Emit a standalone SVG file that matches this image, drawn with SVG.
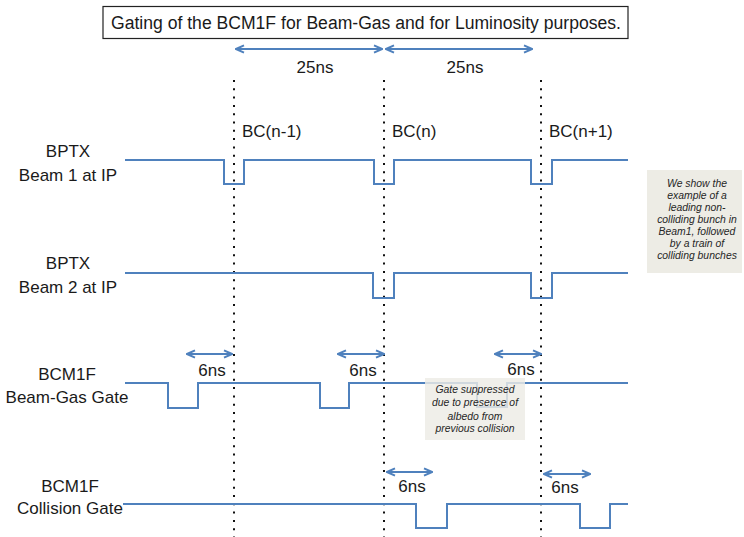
<svg xmlns="http://www.w3.org/2000/svg" width="744" height="537" viewBox="0 0 744 537">
<defs>
<style>
.t{font-family:"Liberation Sans",Arial,sans-serif;font-size:17px;fill:#1a1a1a}
.c{text-anchor:middle}
.n{font-family:"Liberation Sans",Arial,sans-serif;font-style:italic;font-size:10.4px;fill:#262626;text-anchor:middle}
.w{fill:none;stroke:#4F81BD;stroke-width:2}
.a{fill:none;stroke:#4F81BD;stroke-width:2;marker-start:url(#ah);marker-end:url(#ah)}
.d{stroke:#111;stroke-width:2;stroke-dasharray:2 6.3}
.box{fill:#EDECE5}
</style>
<marker id="ah" viewBox="0 0 10 10" refX="9" refY="5" markerWidth="10" markerHeight="10" markerUnits="userSpaceOnUse" orient="auto-start-reverse">
<path d="M1,1.3 L9,5 L1,8.7" fill="none" stroke="#4F81BD" stroke-width="2"/>
</marker>
</defs>
<rect width="744" height="537" fill="#fff"/>

<g id="title">
<rect x="103" y="6.5" width="525" height="32" fill="#fff" stroke="#222" stroke-width="1.2"/>
<text class="t c" x="366" y="29" style="font-size:18px" textLength="510" lengthAdjust="spacingAndGlyphs">Gating of the BCM1F for Beam-Gas and for Luminosity purposes.</text>
</g>

<g id="bc-lines">
<line class="d" x1="234" y1="80" x2="234" y2="537"/>
<line class="d" x1="384" y1="80" x2="384" y2="537"/>
<line class="d" x1="541" y1="80" x2="541" y2="537"/>
<text class="t" x="242" y="137">BC(n-1)</text>
<text class="t" x="392" y="137">BC(n)</text>
<text class="t" x="549" y="137">BC(n+1)</text>
</g>

<g id="connectors">
<line class="a" x1="236" y1="49" x2="382" y2="49"/>
<line class="a" x1="386" y1="49" x2="532" y2="49"/>
<line class="a" x1="187" y1="354" x2="232" y2="354"/>
<line class="a" x1="338" y1="354" x2="384" y2="354"/>
<line class="a" x1="495" y1="354" x2="541" y2="354"/>
<line class="a" x1="387" y1="472" x2="432" y2="472"/>
<line class="a" x1="544" y1="474" x2="590" y2="474"/>
</g>

<g id="labels-ns">
<text class="t c" x="315" y="73">25ns</text>
<text class="t c" x="465" y="73">25ns</text>
<text class="t c" x="212" y="376">6ns</text>
<text class="t c" x="363" y="376">6ns</text>
<text class="t c" x="521" y="375">6ns</text>
<text class="t c" x="412" y="492">6ns</text>
<text class="t c" x="565" y="493">6ns</text>
</g>

<g id="beam1">
<text class="t c" x="68" y="157">BPTX</text>
<text class="t c" x="68" y="181">Beam 1 at IP</text>
<path class="w" d="M125,160 H224 V184 H244 V160 H374 V184 H394 V160 H531 V184 H552 V160 H628"/>
</g>

<g id="beam2">
<text class="t c" x="68" y="269">BPTX</text>
<text class="t c" x="68" y="293">Beam 2 at IP</text>
<path class="w" d="M125,273 H373 V298 H394 V273 H531 V298 H552 V273 H628"/>
</g>

<g id="beamgas">
<text class="t c" x="67" y="380">BCM1F</text>
<text class="t c" x="67" y="403">Beam-Gas Gate</text>
<path class="w" d="M125,383 H168 V408 H198 V383 H320 V408 H349 V383 H477 V407 H507 V383 H628"/>
</g>

<g id="collision">
<text class="t c" x="70" y="492">BCM1F</text>
<text class="t c" x="70" y="514">Collision Gate</text>
<path class="w" d="M123,504 H416 V528 H447 V504 H580 V528 H610 V504 H628"/>
</g>

<g id="note-suppressed">
<rect class="box" x="425" y="378" width="100" height="62" fill-opacity="0.82"/>
<text class="n" x="475" y="393">Gate suppressed</text>
<text class="n" x="475" y="406">due to presence of</text>
<text class="n" x="475" y="420">albedo from</text>
<text class="n" x="475" y="432">previous collision</text>
</g>

<g id="note-example">
<rect class="box" x="647" y="170" width="95" height="103"/>
<text class="n" x="697" y="187">We show the</text>
<text class="n" x="697" y="199">example of a</text>
<text class="n" x="697" y="211">leading non-</text>
<text class="n" x="697" y="223">colliding bunch in</text>
<text class="n" x="697" y="235">Beam1, followed</text>
<text class="n" x="697" y="247">by a train of</text>
<text class="n" x="697" y="259">colliding bunches</text>
</g>
</svg>
